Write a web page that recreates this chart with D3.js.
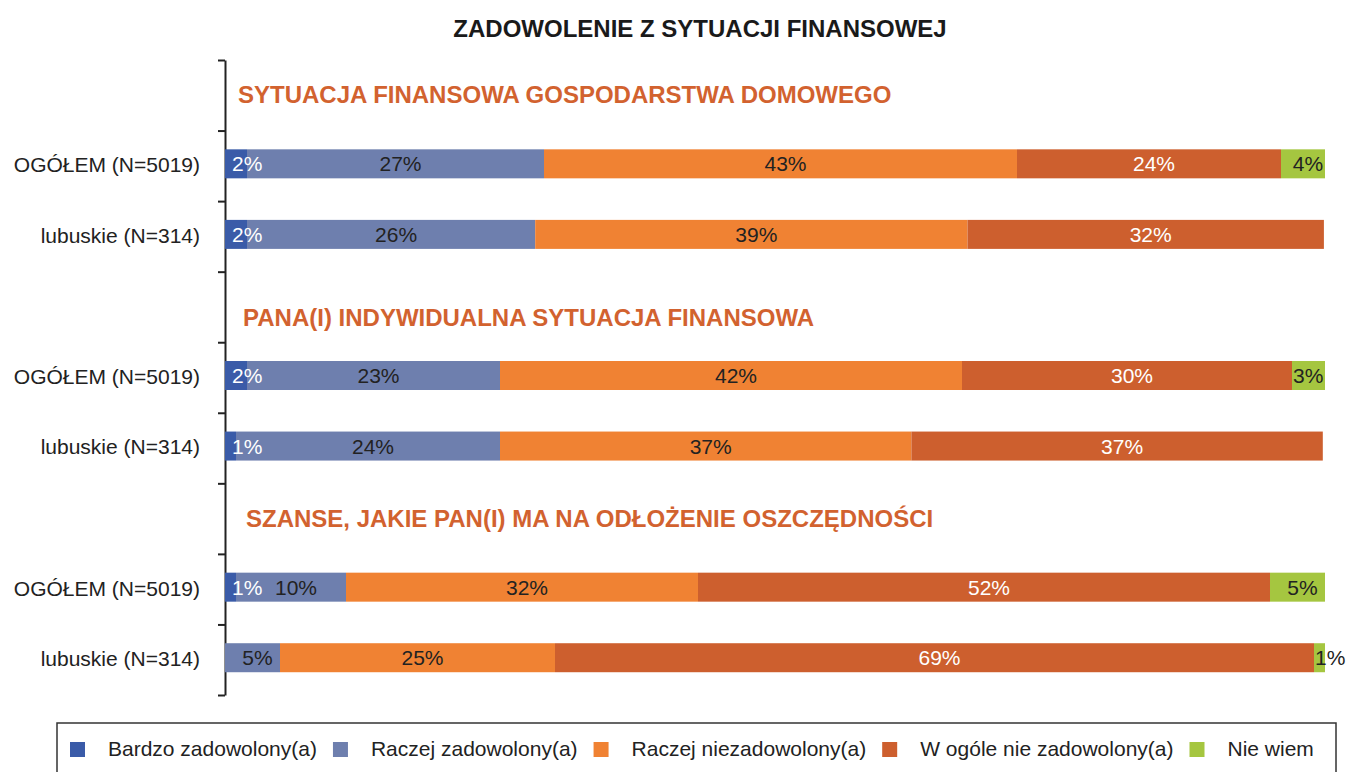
<!DOCTYPE html>
<html lang="pl">
<head>
<meta charset="UTF-8">
<title>Zadowolenie z sytuacji finansowej</title>
<script src="https://d3js.org/d3.v7.min.js"></script>
<style>
    body { margin: 0; background: #fff; }
    svg { font-family: "Liberation Sans", Arial, Helvetica, sans-serif; }
</style>
</head>
<body>
<div id="chart"></div>
<script>
const width = 1346;
const height = 772;

// section headers and the two groups shown under each
const sections = [
    "SYTUACJA FINANSOWA GOSPODARSTWA DOMOWEGO",
    "PANA(I) INDYWIDUALNA SYTUACJA FINANSOWA",
    "SZANSE, JAKIE PAN(I) MA NA ODŁOŻENIE OSZCZĘDNOŚCI"
];
const groups = ["OGÓŁEM (N=5019)", "lubuskie (N=314)"];

const series = [
    "Bardzo zadowolony(a)",
    "Raczej zadowolony(a)",
    "Raczej niezadowolony(a)",
    "W ogóle nie zadowolony(a)",
    "Nie wiem"
];

// values in %, one entry per bar (section 1 ogółem, section 1 lubuskie, section 2 ...)
const bardzo      = [2, 2, 2, 1, 1, 0];
const raczejZad   = [27, 26.2, 23, 24, 10, 5];
const raczejNie   = [43, 39.3, 42, 37.4, 32, 25];
const wOgoleNie   = [24, 32.4, 30, 37.4, 52, 69];
const nieWiem     = [4, 0, 3, 0, 5, 1];

const colors = ["#3a5ba8", "#6e7fae", "#f08233", "#cd5f2e", "#a5c640"];
const labelColors = ["#fff", "#222", "#222", "#fff", "#222"];

const rows = [];
sections.forEach((s, si) => {
    groups.forEach((g, gi) => {
        const i = si * 2 + gi;
        rows.push({
            section: si, group: g, slot: si * 3 + 1 + gi,
            values: [bardzo[i], raczejZad[i], raczejNie[i], wOgoleNie[i], nieWiem[i]]
        });
    });
});

const svg = d3.select("#chart").append("svg")
    .attr("width", width)
    .attr("height", height);

// title
svg.append("text")
    .attr("x", 700)
    .attr("y", 37)
    .attr("text-anchor", "middle")
    .style("font-size", "24px")
    .style("font-weight", "bold")
    .attr("fill", "#1a1a1a")
    .text("ZADOWOLENIE Z SYTUACJI FINANSOWEJ");

const x = d3.scaleLinear().domain([0, 100]).range([225, 1325]);
const y = d3.scaleLinear().domain([0, 9]).range([60, 695]);

// vertical axis with ticks between the rows
svg.append("g")
    .attr("transform", `translate(${x(0)},0)`)
    .call(d3.axisLeft(y).tickValues(d3.range(10)).tickFormat("").tickSize(7).tickSizeOuter(0))
    .call(g => g.selectAll("path, line").attr("stroke", "#222").attr("stroke-width", 2));

// section headers (small nudges as in the source layout)
const headerNudge = [[13, -1], [18, 11], [21, 0]];
svg.append("g").selectAll("text")
    .data(sections)
    .join("text")
    .attr("x", (d, i) => x(0) + headerNudge[i][0])
    .attr("y", (d, i) => y(i * 3 + 0.5) + headerNudge[i][1])
    .attr("dy", "0.35em")
    .attr("fill", "#d2622f")
    .style("font-size", "24px")
    .style("font-weight", "bold")
    .text(d => d);

// group labels
svg.append("g").selectAll("text")
    .data(rows)
    .join("text")
    .attr("x", 200)
    .attr("y", d => y(d.slot + 0.5) - 1)
    .attr("dy", "0.35em")
    .attr("text-anchor", "end")
    .attr("fill", "#222")
    .style("font-size", "21px")
    .text(d => d.group);

// stacked bars
const barH = 29;
const fmt = d => d3.format(".0f")(d) + "%";

rows.forEach(r => {
    let acc = 0;
    const segs = r.values.map((v, k) => {
        const s = { k, v, x0: acc, x1: acc + v };
        acc += v;
        return s;
    }).filter(s => s.v > 0);

    const g = svg.append("g");
    const cy = y(r.slot + 0.5) - 2;

    g.selectAll("rect")
        .data(segs)
        .join("rect")
        .attr("x", s => x(s.x0))
        .attr("y", cy - barH / 2)
        .attr("width", s => x(s.x1) - x(s.x0))
        .attr("height", barH)
        .attr("fill", s => colors[s.k]);

    g.selectAll("text")
        .data(segs)
        .join("text")
        .attr("y", cy)
        .attr("dy", "0.36em")
        .attr("fill", s => labelColors[s.k])
        .style("font-size", "21px")
        .text(s => fmt(s.v))
        .each(function (s) {
            const tw = this.getComputedTextLength();
            const w = x(s.x1) - x(s.x0);
            const t = d3.select(this);
            if (w < tw + 8) {
                t.attr("x", x(s.x0) + (s.k === 4 ? 1 : 7)).attr("text-anchor", "start");
            } else {
                t.attr("x", (x(s.x0) + x(s.x1)) / 2 + 5).attr("text-anchor", "middle");
            }
        });
});

// legend
svg.append("rect")
    .attr("x", 57)
    .attr("y", 723)
    .attr("width", 1279)
    .attr("height", 70)
    .attr("fill", "none")
    .attr("stroke", "#333")
    .attr("stroke-width", 1.5);

const legend = svg.append("g");
let lx = 70;
series.forEach((name, i) => {
    legend.append("rect")
        .attr("x", lx)
        .attr("y", 742)
        .attr("width", 15)
        .attr("height", 15)
        .attr("fill", colors[i]);
    const t = legend.append("text")
        .attr("x", lx + 38)
        .attr("y", 749)
        .attr("dy", "0.35em")
        .attr("fill", "#222")
        .style("font-size", "21px")
        .text(name);
    lx += 38 + t.node().getComputedTextLength() + 16;
});
</script>
</body>
</html>
